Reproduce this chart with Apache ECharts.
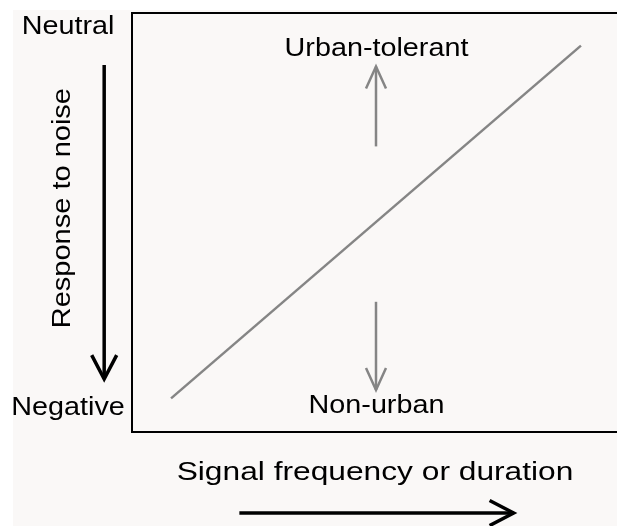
<!DOCTYPE html>
<html>
<head>
<meta charset="utf-8">
<script src="https://cdn.jsdelivr.net/npm/echarts@6/dist/echarts.min.js"></script>
<style>
html, body { margin: 0; padding: 0; background: #fff; overflow: hidden; width: 100%; height: 100%; }
#chart { width: 100%; height: 100%; min-width: 617px; min-height: 526px; }
</style>
</head>
<body>
<div id="chart"></div>
<script>
// schematic axes run 0..100 inside the box
var trendLine = [[8, 8], [92, 92]];
// arrows: [x1, y1, x2, y2] (tip at x2, y2)
var grayArrows = [[50, 68, 50, 87], [50, 31, 50, 10]];
var blackArrows = [[-5.7, 87.4, -5.7, 12.6], [22, -19.3, 78.2, -19.3]];
// text labels: [x, y, text]
var labels = [
	[50.1, 91.2, 'Urban-tolerant'],
	[50.1, 6.1, 'Non-urban'],
	[-13.1, 96.3, 'Neutral'],
	[-13.1, 5.6, 'Negative']
];
var xTitle = [[49.8, -9.8, 'Signal frequency or duration']];
var yTitle = [[-14.2, 53.3, 'Response to noise']];

var chart = echarts.init(document.getElementById('chart'));

//arrow drawing: shaft plus open chevron head
var arrowItem = function(color, width, headLen, headHalf) {
	return function(params, api) {
		var p1 = api.coord([api.value(0), api.value(1)]);
		var p2 = api.coord([api.value(2), api.value(3)]);
		var dx = p2[0] - p1[0], dy = p2[1] - p1[1];
		var len = Math.sqrt(dx * dx + dy * dy);
		var ux = dx / len, uy = dy / len;
		var bx = p2[0] - ux * headLen, by = p2[1] - uy * headLen;
		var style = { stroke: color, lineWidth: width, fill: null };
		return {
			type: 'group',
			children: [
				{ type: 'polyline', shape: { points: [p1, p2] }, style: style },
				{ type: 'polyline', shape: { points: [
					[bx - uy * headHalf, by + ux * headHalf], p2, [bx + uy * headHalf, by - ux * headHalf]
				] }, style: style }
			]
		};
	};
};

//text drawn at a data point, the reference type is a bit wide
var textItem = function(rows, size, stretch, rotation) {
	return function(params, api) {
		var p = api.coord([api.value(0), api.value(1)]);
		return {
			type: 'text',
			x: p[0], y: p[1],
			rotation: rotation,
			scaleX: stretch,
			style: {
				text: rows[params.dataIndex][2],
				font: size + 'px "Liberation Sans", Arial, sans-serif',
				fill: '#000',
				align: 'center',
				verticalAlign: 'middle'
			}
		};
	};
};

//frame is open on the right, as in the figure
var frame = { stroke: '#000', lineWidth: 2 };

var option = {
	backgroundColor: '#fff',
	animation: false,
	graphic: [
		{
			type: 'rect', left: 13, top: 10, z: -10,
			shape: { width: 2000, height: 2000 },
			style: { fill: '#faf8f7' }
		},
		{ type: 'polyline', z: 1, shape: { points: [[700, 13], [132, 13], [132, 432], [700, 432]] }, style: frame }
	],
	grid: {
		left: 132, top: 12, width: 488, height: 420,
		outerBoundsMode: 'none',
		show: false
	},
	xAxis: { type: 'value', min: 0, max: 100, show: false },
	yAxis: { type: 'value', min: 0, max: 100, show: false },
	series: [
		{
			type: 'line',
			data: trendLine,
			symbol: 'none',
			lineStyle: { color: '#858585', width: 2.5 }
		},
		{
			type: 'custom',
			data: grayArrows,
			renderItem: arrowItem('#858585', 2.5, 22, 10),
			clip: false
		},
		{
			type: 'custom',
			data: blackArrows,
			renderItem: arrowItem('#000', 3.5, 24, 12.5),
			clip: false
		},
		{
			type: 'custom',
			data: labels,
			renderItem: textItem(labels, 25, 1.15, 0),
			clip: false
		},
		{
			type: 'custom',
			data: xTitle,
			renderItem: textItem(xTitle, 26, 1.22, 0),
			clip: false
		},
		{
			type: 'custom',
			data: yTitle,
			renderItem: textItem(yTitle, 25, 1.16, Math.PI / 2),
			clip: false
		}
	]
};
chart.setOption(option);
</script>
</body>
</html>
